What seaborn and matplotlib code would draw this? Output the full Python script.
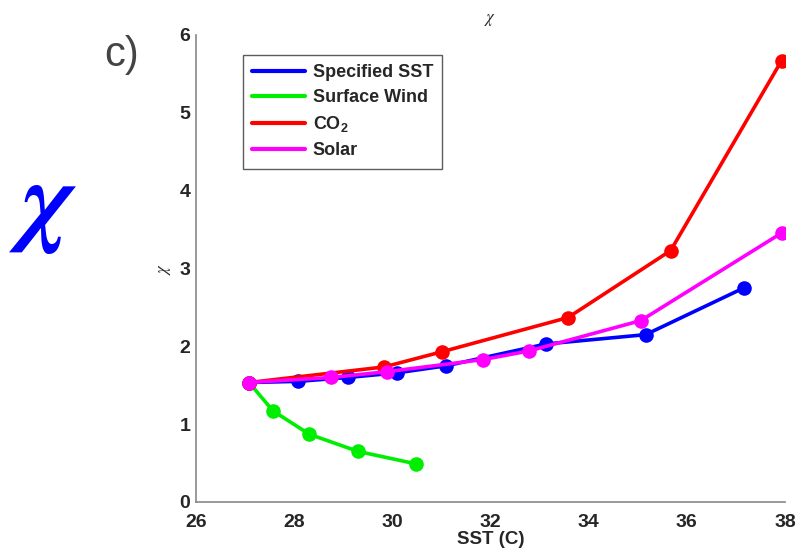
import matplotlib
matplotlib.use("Agg")
import matplotlib.pyplot as plt
from matplotlib.lines import Line2D
import seaborn as sns
import pandas as pd

# Sensitivity of chi to SST for each forcing experiment
sst_specified = [27.08, 28.08, 29.10, 30.10, 31.10, 33.13, 35.16, 37.16]
chi_specified = [1.535, 1.55, 1.60, 1.66, 1.75, 2.03, 2.15, 2.75]

sst_wind = [27.08, 27.57, 28.31, 29.30, 30.48]
chi_wind = [1.535, 1.17, 0.87, 0.65, 0.49]

sst_co2 = [27.08, 29.83, 31.01, 33.58, 35.67, 37.93]
chi_co2 = [1.535, 1.735, 1.93, 2.37, 3.23, 5.67]

sst_solar = [27.08, 28.76, 29.90, 31.85, 32.78, 35.06, 37.94]
chi_solar = [1.535, 1.60, 1.675, 1.83, 1.94, 2.33, 3.46]

series = [
    ("Specified SST", sst_specified, chi_specified, "#0000FF"),
    ("Surface Wind", sst_wind, chi_wind, "#00EE00"),
    (r"CO$_\mathbf{2}$", sst_co2, chi_co2, "#FF0000"),
    ("Solar", sst_solar, chi_solar, "#FF00FF"),
]

sns.set_theme(style="white")
plt.rcParams["font.family"] = ["Liberation Sans", "DejaVu Sans"]
plt.rcParams["mathtext.fontset"] = "custom"
plt.rcParams["mathtext.bf"] = "Liberation Sans:bold"
plt.rcParams["mathtext.rm"] = "Liberation Sans"

fig = plt.figure(figsize=(8.02, 5.52), dpi=100)
ax = fig.add_axes([0.2444, 0.0906, 0.7344, 0.846])

for name, xs, ys, col in series:
    df = pd.DataFrame({"SST": xs, "chi": ys})
    sns.lineplot(data=df, x="SST", y="chi", ax=ax, sort=False, color=col,
                 linewidth=2.6, marker="o", markersize=10.5,
                 markeredgecolor=col, markeredgewidth=0, legend=False)

ax.set_xlim(26, 38)
ax.set_ylim(0, 6)
ax.set_xticks(range(26, 39, 2))
ax.set_yticks(range(0, 7))
for lab in ax.get_xticklabels() + ax.get_yticklabels():
    lab.set_fontweight("bold")
    lab.set_fontsize(14)
ax.tick_params(axis="both", direction="in", length=5, width=1,
               color="#555555")
ax.tick_params(axis="y", pad=4)
ax.tick_params(axis="x", pad=9)

for side in ("top", "right"):
    ax.spines[side].set_visible(False)
for side in ("left", "bottom"):
    ax.spines[side].set_color("#888888")
    ax.spines[side].set_linewidth(1.2)

ax.set_xlabel("SST (C)", fontweight="bold", fontsize=13.5, labelpad=0)
ax.set_ylabel(r"$\chi$", fontsize=12, labelpad=5, rotation=90,
              math_fontfamily="stix")
ax.set_title(r"$\chi$", fontsize=12, pad=9, math_fontfamily="stix")

handles = [Line2D([0], [0], color=c, lw=3) for _, _, _, c in series]
labels = [n for n, _, _, _ in series]
leg = ax.legend(handles, labels, loc="upper left",
                bbox_to_anchor=(0.08, 0.957), borderaxespad=0,
                frameon=True, fancybox=False,
                edgecolor="#333333", handlelength=2.9, handletextpad=0.45,
                borderpad=0.5, labelspacing=0.45,
                prop={"weight": "bold", "size": 13})
leg.get_frame().set_linewidth(1.0)

fig.text(0.13, 0.9, "c)", fontsize=30, color="#444444", ha="left",
         va="center")
fig.text(0.055, 0.625, "\u03c7", fontsize=74, color="#0000FF",
         ha="center", va="center", family="STIXGeneral",
         style="italic", weight="bold")

fig.savefig("out.png", dpi=100)
